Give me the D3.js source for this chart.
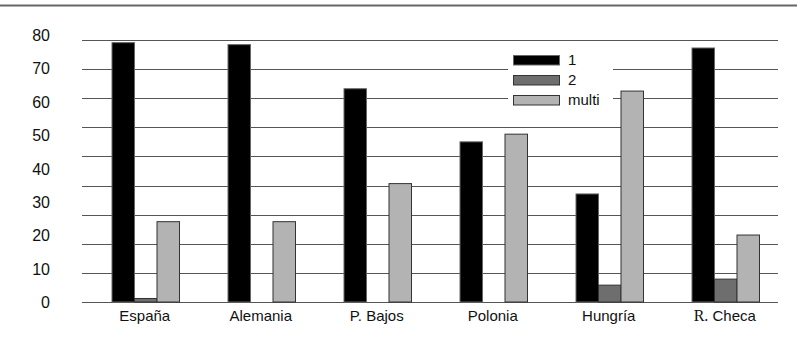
<!DOCTYPE html>
<html><head><meta charset="utf-8">
<script src="https://cdn.jsdelivr.net/npm/d3@7"></script>
<style>body{margin:0;background:#fff}svg{display:block}text{font-family:"Liberation Sans",Arial,sans-serif;fill:#111}</style>
</head><body><svg id="c" width="797" height="348"></svg>
<script>
const categories = ["España","Alemania","P. Bajos","Polonia","Hungría","R. Checa"];
const seriesNames = ["1","2","multi"];
const values1 = [77.8, 77.2, 64.0, 48.1, 32.5, 76.2];
const values2 = [1.2, 0, 0, 0, 5.2, 7.0];
const valuesMulti = [24.2, 24.2, 35.6, 50.4, 63.3, 20.2];
const yTicks = [0,10,20,30,40,50,60,70,80];
const seriesData = [values1, values2, valuesMulti];
const colors = ["#000000","#6e6e6e","#b3b3b3"];
const strokes = ["#666","#333","#333"];

const svg = d3.select("#c");
const left = 82, right = 778, base = 302;

// top rule
svg.append("line").attr("x1",0).attr("x2",797).attr("y1",5.5).attr("y2",5.5)
  .attr("stroke","#666").attr("stroke-width",2);

// value scale (as labelled)
const y = d3.scaleLinear().domain([0,80]).range([302.5,35.3]);
// gridlines (drawn evenly, 10 lines)
const gridIdx = d3.range(10);
const yGrid = d3.scaleLinear().domain([0,9]).range([base,40]);
svg.append("g").selectAll("line").data(gridIdx).join("line")
  .attr("x1",left).attr("x2",right)
  .attr("y1",d=>Math.round(yGrid(d))+0.5).attr("y2",d=>Math.round(yGrid(d))+0.5)
  .attr("stroke","#555").attr("stroke-width",1);

// y labels
svg.append("g").selectAll("text").data(yTicks).join("text")
  .attr("x",50).attr("y",d=>y(d)).attr("dy","0.36em")
  .attr("text-anchor","end").attr("font-size",16).text(d=>d);

// bands
const x0 = d3.scaleBand().domain(categories).range([left,right]);
const x1 = d3.scaleBand().domain(seriesNames).range([30,97.5]);

// legend background
svg.append("rect").attr("x",508).attr("y",46).attr("width",105).attr("height",64).attr("fill","#fff");

const g = svg.append("g");
categories.forEach((c,i)=>{
  seriesNames.forEach((s,j)=>{
    const v = seriesData[j][i];
    if(v<=0) return;
    g.append("rect")
      .attr("x",x0(c)+x1(s)).attr("width",x1.bandwidth())
      .attr("y",y(v)).attr("height",base - y(v))
      .attr("fill",colors[j]).attr("stroke",strokes[j]).attr("stroke-width",1);
  });
});

// x labels
const xl = svg.append("g");
categories.forEach(c=>{
  const cx = x0(c) + 30 + 67.5/2 - 1;
  const t = xl.append("text").attr("x",cx).attr("y",321).attr("text-anchor","middle").attr("font-size",15);
  if(c.startsWith("R.")){
    t.append("tspan").attr("font-family","Liberation Serif, serif").attr("font-size",16).text("R.");
    t.append("tspan").text(c.slice(2));
  } else t.text(c);
});

// legend
const lg = svg.append("g");
seriesNames.forEach((s,j)=>{
  const yy = 55 + j*20;
  lg.append("rect").attr("x",513.5).attr("y",yy+0.5).attr("width",46).attr("height",9.5)
    .attr("fill",colors[j]).attr("stroke",strokes[j]);
  lg.append("text").attr("x",568).attr("y",yy+10).attr("font-size",15).text(s);
});
</script></body></html>
